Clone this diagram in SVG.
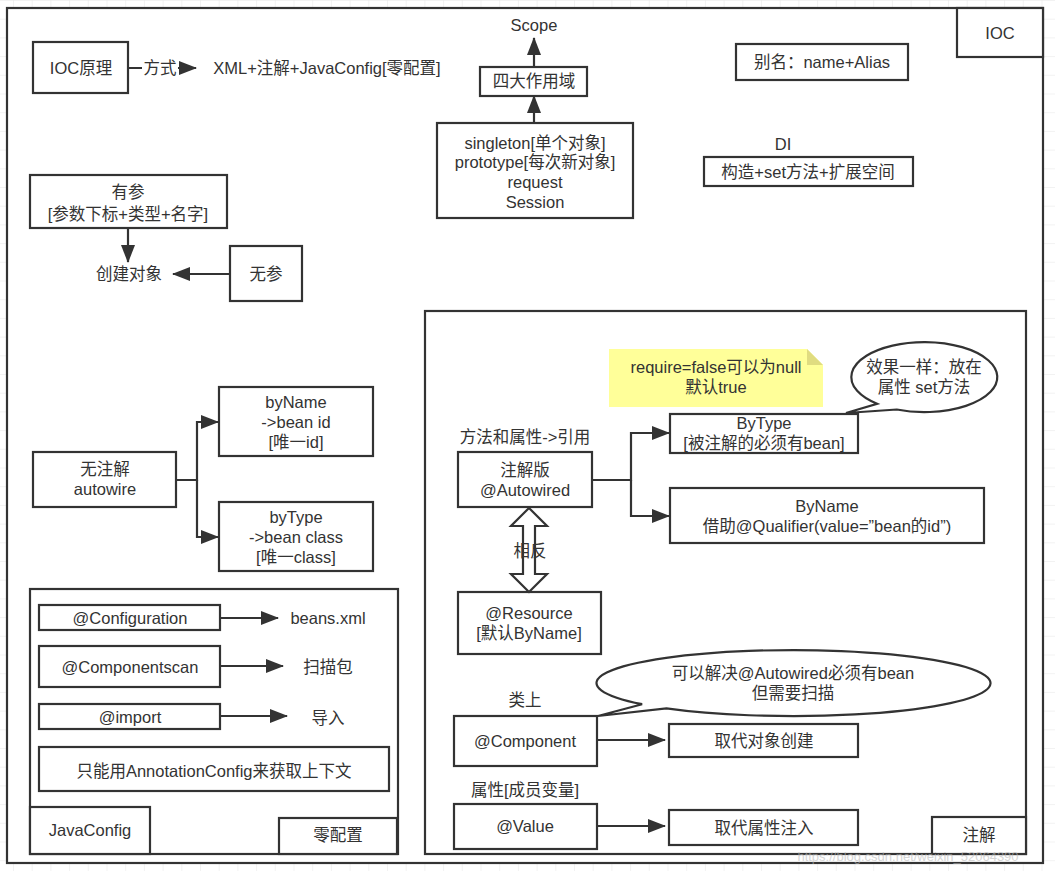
<svg xmlns="http://www.w3.org/2000/svg" width="1055" height="871" viewBox="0 0 1055 871">
<defs>
<pattern id="grid" x="13" y="0" width="18.7" height="18.7" patternUnits="userSpaceOnUse">
<path d="M0,0 V18.7 M0,0 H18.7" fill="none" stroke="#e6e6e6" stroke-width="1"/>
</pattern>
<marker id="arr" markerUnits="userSpaceOnUse" markerWidth="18" markerHeight="14" refX="17" refY="7" orient="auto">
<path d="M0,0 L18,7 L0,14 Z" fill="#333"/>
</marker>
<style>
.b{fill:#fff;stroke:#333;stroke-width:2.2}
.c{fill:none;stroke:#333;stroke-width:2.2}
.t{font-family:"Liberation Sans","Noto Sans CJK SC",sans-serif;font-size:16.5px;fill:#333;text-anchor:middle;dominant-baseline:central}
</style>
</defs>
<rect x="0" y="0" width="1055" height="871" fill="#fff"/>
<rect x="0" y="0" width="1055" height="871" fill="url(#grid)"/>

<g id="ioc-frame">
<rect class="b" x="7" y="8" width="1036" height="855"/>
<rect class="b" x="957" y="8" width="86" height="49"/>
<text class="t" x="1000" y="33">IOC</text>
</g>

<g id="ioc-principle">
<rect class="b" x="33" y="42" width="95" height="51"/>
<text class="t" x="81" y="68">IOC原理</text>
</g>
<g id="xml-text"><text class="t" x="327" y="68">XML+注解+JavaConfig[零配置]</text></g>

<g id="scope"><text class="t" x="534" y="25">Scope</text></g>
<g id="four-scope">
<rect class="b" x="480" y="67" width="107" height="29"/>
<text class="t" x="534" y="81">四大作用域</text>
</g>
<g id="scope-list">
<rect class="b" x="437" y="123" width="196" height="95"/>
<text class="t" x="535" y="143">singleton[单个对象]</text>
<text class="t" x="535" y="162">prototype[每次新对象]</text>
<text class="t" x="535" y="182">request</text>
<text class="t" x="535" y="202">Session</text>
</g>

<g id="alias">
<rect class="b" x="736" y="44" width="172" height="36"/>
<text class="t" x="822" y="62">别名：name+Alias</text>
</g>
<g id="di-label"><text class="t" x="783" y="144">DI</text></g>
<g id="di">
<rect class="b" x="704" y="157" width="209" height="29"/>
<text class="t" x="808" y="172">构造+set方法+扩展空间</text>
</g>

<g id="with-args">
<rect class="b" x="30" y="175" width="197" height="53"/>
<text class="t" x="128" y="192">有参</text>
<text class="t" x="128" y="214">[参数下标+类型+名字]</text>
</g>
<g id="create-obj"><text class="t" x="129" y="274">创建对象</text></g>
<g id="no-args">
<rect class="b" x="230" y="246" width="72" height="55"/>
<text class="t" x="266" y="274">无参</text>
</g>

<g id="autowire">
<rect class="b" x="33" y="452" width="143" height="55"/>
<text class="t" x="105" y="469">无注解</text>
<text class="t" x="105" y="489">autowire</text>
</g>
<g id="byname">
<rect class="b" x="219" y="387" width="154" height="69"/>
<text class="t" x="296" y="402">byName</text>
<text class="t" x="296" y="422">-&gt;bean id</text>
<text class="t" x="296" y="442">[唯一id]</text>
</g>
<g id="bytype">
<rect class="b" x="219" y="502" width="154" height="69"/>
<text class="t" x="296" y="517">byType</text>
<text class="t" x="296" y="537">-&gt;bean class</text>
<text class="t" x="296" y="557">[唯一class]</text>
</g>

<g id="javaconfig">
<rect class="b" x="30" y="589" width="368" height="265"/>
<rect class="b" x="30" y="807" width="120" height="47"/>
<text class="t" x="90" y="830">JavaConfig</text>
<rect class="b" x="279" y="818" width="118" height="36"/>
<text class="t" x="338" y="835">零配置</text>
</g>
<g id="configuration">
<rect class="b" x="39" y="605" width="181" height="25"/>
<text class="t" x="130" y="618">@Configuration</text>
</g>
<g id="beans-xml"><text class="t" x="328" y="618">beans.xml</text></g>
<g id="componentscan">
<rect class="b" x="39" y="646" width="181" height="41"/>
<text class="t" x="130" y="667">@Componentscan</text>
</g>
<g id="scan-pkg"><text class="t" x="328" y="667">扫描包</text></g>
<g id="import">
<rect class="b" x="39" y="704" width="181" height="25"/>
<text class="t" x="130" y="717">@import</text>
</g>
<g id="import-text"><text class="t" x="328" y="718">导入</text></g>
<g id="annotation-config">
<rect class="b" x="39" y="747" width="350" height="44"/>
<text class="t" x="214" y="771">只能用AnnotationConfig来获取上下文</text>
</g>

<g id="annotation">
<rect class="b" x="425" y="311" width="601" height="543"/>
<rect class="b" x="932" y="817" width="94" height="37"/>
<text class="t" x="979" y="835">注解</text>
</g>
<g id="note">
<path d="M609,349 H807 L823,365 V407 H609 Z" fill="#ffff99"/>
<path d="M807,349 L823,365 H807 Z" fill="#e0dc80"/>
<text class="t" x="716" y="367">require=false可以为null</text>
<text class="t" x="716" y="387">默认true</text>
</g>
<g id="callout1">
<path class="b" d="M877.1,403.8 A73 35 0 1 1 896.7,409.5 L846,413 Z"/>
<text class="t" x="924" y="367">效果一样：放在</text>
<text class="t" x="924" y="387">属性  set方法</text>
</g>
<g id="method-label"><text class="t" x="525" y="437">方法和属性-&gt;引用</text></g>
<g id="autowired">
<rect class="b" x="458" y="452" width="134" height="55"/>
<text class="t" x="525" y="470">注解版</text>
<text class="t" x="525" y="490">@Autowired</text>
</g>
<g id="bytype2">
<rect class="b" x="670" y="414" width="188" height="39"/>
<text class="t" x="764" y="423">ByType</text>
<text class="t" x="764" y="443">[被注解的必须有bean]</text>
</g>
<g id="byname2">
<rect class="b" x="670" y="488" width="314" height="55"/>
<text class="t" x="827" y="506">ByName</text>
<text class="t" x="827" y="526">借助@Qualifier(value=”bean的id”)</text>
</g>
<g id="resource">
<rect class="b" x="458" y="592" width="143" height="62"/>
<text class="t" x="529" y="613">@Resource</text>
<text class="t" x="529" y="633">[默认ByName]</text>
</g>
<g id="callout2">
<path class="b" d="M642.1,704.2 A197 33 0 1 1 666.4,708.3 L598,716 Z"/>
<text class="t" x="793" y="673">可以解决@Autowired必须有bean</text>
<text class="t" x="793" y="693">但需要扫描</text>
</g>
<g id="class-label"><text class="t" x="525" y="700">类上</text></g>
<g id="component">
<rect class="b" x="454" y="716" width="143" height="50"/>
<text class="t" x="525" y="741">@Component</text>
</g>
<g id="replace-create">
<rect class="b" x="669" y="724" width="189" height="33"/>
<text class="t" x="764" y="741">取代对象创建</text>
</g>
<g id="field-label"><text class="t" x="525" y="790">属性[成员变量]</text></g>
<g id="value">
<rect class="b" x="454" y="804" width="143" height="45"/>
<text class="t" x="525" y="826">@Value</text>
</g>
<g id="replace-inject">
<rect class="b" x="669" y="810" width="189" height="35"/>
<text class="t" x="764" y="828">取代属性注入</text>
</g>

<g id="connectors">
<path class="c" d="M128,68 H196" marker-end="url(#arr)"/>
<rect x="142" y="58" width="36" height="20" fill="#fff"/>
<text class="t" x="160" y="68">方式</text>
<path class="c" d="M534,67 V38" marker-end="url(#arr)"/>
<path class="c" d="M534,123 V96" marker-end="url(#arr)"/>
<path class="c" d="M128,228 V262" marker-end="url(#arr)"/>
<path class="c" d="M230,274 H173" marker-end="url(#arr)"/>
<path class="c" d="M176,480 H197 V422 H218" marker-end="url(#arr)"/>
<path class="c" d="M197,480 V537 H218" marker-end="url(#arr)"/>
<path class="c" d="M220,618 H278" marker-end="url(#arr)"/>
<path class="c" d="M220,666 H283" marker-end="url(#arr)"/>
<path class="c" d="M220,716 H287" marker-end="url(#arr)"/>
<path class="c" d="M592,480 H631 V433 H669" marker-end="url(#arr)"/>
<path class="c" d="M631,480 V516 H669" marker-end="url(#arr)"/>
<path class="b" d="M529,508 L547,526 H535 V574 H547 L529,592 L511,574 H523 V526 H511 Z"/>
<text class="t" x="530" y="551">相反</text>
<path class="c" d="M597,740 H665" marker-end="url(#arr)"/>
<path class="c" d="M597,826 H665" marker-end="url(#arr)"/>
</g>
<text x="908" y="856" font-family="Liberation Sans, sans-serif" font-size="13" fill="#bbb" opacity="0.6" text-anchor="middle" dominant-baseline="central">https://blog.csdn.net/weixin_52064390</text>
</svg>
